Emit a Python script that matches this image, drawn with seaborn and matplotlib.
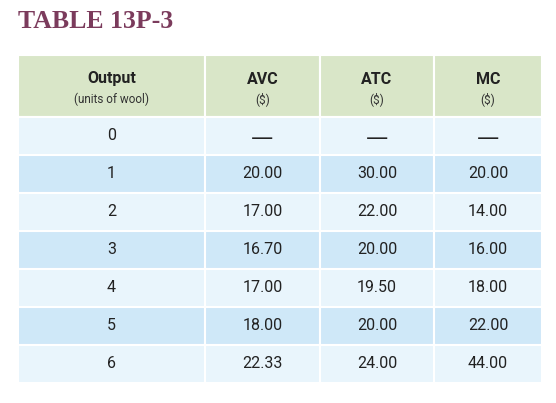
import matplotlib
matplotlib.use("Agg")
import matplotlib.pyplot as plt
import seaborn as sns

sns.set_theme(style="white")
plt.rcParams['font.family'] = ['Liberation Sans Narrow', 'Roboto', 'DejaVu Sans']

title = "TABLE 13P-3"
headers = ["Output", "AVC", "ATC", "MC"]
subheaders = ["(units of wool)", "($)", "($)", "($)"]
output = ["0", "1", "2", "3", "4", "5", "6"]
avc = ["—", "20.00", "17.00", "16.70", "17.00", "18.00", "22.33"]
atc = ["—", "30.00", "22.00", "20.00", "19.50", "20.00", "24.00"]
mc = ["—", "20.00", "14.00", "16.00", "18.00", "22.00", "44.00"]

col_edges = [18, 205, 320, 434, 542]
header_top, header_bot = 55, 117
row_h = 38

fig = plt.figure(figsize=(5.56, 4.03), dpi=100)
ax = fig.add_axes([0, 0, 1, 1])
ax.set_xlim(0, 556)
ax.set_ylim(403, 0)
ax.axis("off")

fig.text(18/556, 1-22/403, title, family="Liberation Serif", fontweight="bold",
         fontsize=18.5, color="#7b3b5c", va="center", ha="left")

header_col = "#d9e6c8"
light = "#e9f5fc"
dark = "#cfe8f8"
columns = [output, avc, atc, mc]

for c in range(4):
    x0, x1 = col_edges[c], col_edges[c+1]
    w = x1 - x0
    cx = (x0 + x1) / 2
    ax.bar(x0, header_bot - header_top, width=w, bottom=header_top, align="edge",
           color=header_col, edgecolor="white", linewidth=1.5)
    ax.text(cx, 79, headers[c], ha="center", va="center", fontsize=11.5,
            fontweight="bold", color="#222222")
    ax.text(cx, 99, subheaders[c], ha="center", va="center", fontsize=8.5,
            color="#333333")
    for r, val in enumerate(columns[c]):
        y0 = header_bot + r * row_h
        ax.bar(x0, row_h, width=w, bottom=y0, align="edge",
               color=light if r % 2 == 0 else dark, edgecolor="white", linewidth=1.5)
        if val == "—":
            ax.text(cx, y0 + row_h/2 + 2, val, ha="center", va="center",
                    fontsize=16, color="#222222", family="DejaVu Sans")
        else:
            ax.text(cx, y0 + row_h/2, val, ha="center", va="center", fontsize=11.5,
                    color="#222222")

fig.savefig("out.png", dpi=100)
